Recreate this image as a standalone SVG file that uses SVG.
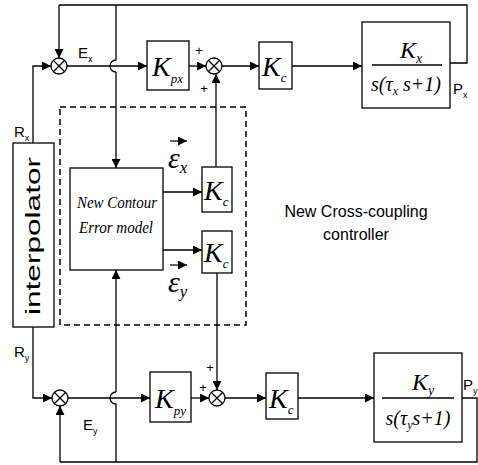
<svg xmlns="http://www.w3.org/2000/svg" width="478" height="465" viewBox="0 0 478 465">
<defs>
<marker id="ah" viewBox="0 0 10 10" refX="10" refY="5" markerWidth="9" markerHeight="9" markerUnits="userSpaceOnUse" orient="auto"><path d="M0,0 L10,5 L0,10 z" fill="#000"/></marker>
</defs>
<style>
.b{fill:#fff;stroke:#000;stroke-width:1.3}
.l{fill:none;stroke:#000;stroke-width:1.3}
.a{fill:none;stroke:#000;stroke-width:1.3;marker-end:url(#ah)}
.s{font-family:"Liberation Serif",serif;font-style:italic;fill:#000}
.n{font-family:"Liberation Sans",Arial,sans-serif;fill:#000}
</style>
<rect width="478" height="465" fill="#fff"/>
<g id="connectors">
<path class="l" d="M450,63 H467 V5 H59"/>
<path class="a" d="M59,5 V58"/>
<path class="l" d="M116,5 V60 A6,6 0 0 0 116,72"/>
<path class="a" d="M116,72 V168"/>
<path class="a" d="M33,143 V66 H51"/>
<path class="a" d="M67,66 H147"/>
<path class="a" d="M189,66 H206"/>
<path class="a" d="M222,66 H259"/>
<path class="a" d="M292,66 H362"/>
<path class="a" d="M163,192 H202"/>
<path class="a" d="M163,250 H202"/>
<path class="a" d="M216,168 V74"/>
<path class="a" d="M217,273 V390"/>
<path class="a" d="M33,327 V398 H52"/>
<path class="a" d="M68,398 H150"/>
<path class="a" d="M191,398 H209"/>
<path class="a" d="M225,398 H266"/>
<path class="a" d="M298,398 H374"/>
<path class="l" d="M462,398 H477 V462 H60"/>
<path class="a" d="M60,462 V406"/>
<path class="l" d="M116,462 V404 A6,6 0 0 1 116,392"/>
<path class="a" d="M116,392 V270"/>
</g>
<g id="dashed-box">
<rect x="60" y="107" width="186" height="218" fill="none" stroke="#000" stroke-width="1.5" stroke-dasharray="6,4"/>
</g>
<g id="sum1"><circle class="b" cx="59" cy="66" r="8"/><path class="l" d="M53.3,60.3 L64.7,71.7 M64.7,60.3 L53.3,71.7"/></g>
<g id="sum2"><circle class="b" cx="214" cy="66" r="8"/><path class="l" d="M208.3,60.3 L219.7,71.7 M219.7,60.3 L208.3,71.7"/>
<text class="n" x="199" y="55" font-size="13" text-anchor="middle">+</text>
<text class="n" x="204" y="93" font-size="13" text-anchor="middle">+</text></g>
<g id="sum3"><circle class="b" cx="60" cy="398" r="8"/><path class="l" d="M54.3,392.3 L65.7,403.7 M65.7,392.3 L54.3,403.7"/></g>
<g id="sum4"><circle class="b" cx="217" cy="398" r="8"/><path class="l" d="M211.3,392.3 L222.7,403.7 M222.7,392.3 L211.3,403.7"/>
<text class="n" x="210" y="372" font-size="13" text-anchor="middle">+</text>
<text class="n" x="203" y="392" font-size="13" text-anchor="middle">+</text></g>
<g id="interpolator">
<rect class="b" x="13" y="143" width="41" height="184"/>
<text class="n" transform="translate(40,236) rotate(-90)" font-size="20" text-anchor="middle" textLength="158" lengthAdjust="spacingAndGlyphs">interpolator</text>
</g>
<g id="labels">
<text class="n" x="78" y="58" font-size="15">E<tspan font-size="9" dy="4">x</tspan></text>
<text class="n" x="14" y="137" font-size="15">R<tspan font-size="9" dy="4">x</tspan></text>
<text class="n" x="14" y="357" font-size="15">R<tspan font-size="9" dy="4">y</tspan></text>
<text class="n" x="83" y="430" font-size="15">E<tspan font-size="9" dy="4">y</tspan></text>
<text class="n" x="453" y="94" font-size="15">P<tspan font-size="9" dy="4">x</tspan></text>
<text class="n" x="463" y="390" font-size="15">P<tspan font-size="9" dy="4">y</tspan></text>
<text class="n" x="356" y="217" font-size="16" text-anchor="middle">New Cross-coupling</text>
<text class="n" x="356" y="240" font-size="16" text-anchor="middle">controller</text>
</g>
<g id="Kpx"><rect class="b" x="147" y="41" width="42" height="49"/>
<text class="s" x="152" y="76" font-size="28">K<tspan font-size="13" dy="7">px</tspan></text></g>
<g id="Kc1"><rect class="b" x="259" y="42" width="33" height="47"/>
<text class="s" x="262" y="76" font-size="28">K<tspan font-size="13" dy="6">c</tspan></text></g>
<g id="Gx"><rect class="b" x="362" y="22" width="88" height="86"/>
<text class="s" x="400" y="58" font-size="24">K<tspan font-size="14" dy="5">x</tspan></text>
<path class="l" d="M372,65 H442"/>
<text class="s" x="406" y="91" font-size="20" text-anchor="middle">s(τ<tspan font-size="12" dy="4">x</tspan><tspan dy="-4"> s+1)</tspan></text></g>
<g id="model"><rect class="b" x="70" y="168" width="93" height="102"/>
<text class="s" x="117" y="208" font-size="16" text-anchor="middle" textLength="80" lengthAdjust="spacingAndGlyphs">New Contour</text>
<text class="s" x="116" y="233" font-size="16" text-anchor="middle" textLength="74" lengthAdjust="spacingAndGlyphs">Error model</text></g>
<g id="Kc2"><rect class="b" x="202" y="167" width="30" height="45"/>
<text class="s" x="204" y="200" font-size="28">K<tspan font-size="13" dy="6">c</tspan></text></g>
<g id="Kc3"><rect class="b" x="202" y="231" width="30" height="42"/>
<text class="s" x="204" y="262" font-size="28">K<tspan font-size="13" dy="6">c</tspan></text></g>
<g id="eps">
<text class="s" x="168" y="168" font-size="30">ε<tspan font-size="17" dy="5">x</tspan></text>
<path class="a" d="M170,141 H187" style="stroke-width:1.2"/>
<text class="s" x="168" y="292" font-size="30">ε<tspan font-size="17" dy="5">y</tspan></text>
<path class="a" d="M170,265 H187" style="stroke-width:1.2"/>
</g>
<g id="Kpy"><rect class="b" x="150" y="372" width="41" height="50"/>
<text class="s" x="155" y="408" font-size="28">K<tspan font-size="13" dy="7">py</tspan></text></g>
<g id="Kc4"><rect class="b" x="266" y="373" width="32" height="46"/>
<text class="s" x="269" y="408" font-size="28">K<tspan font-size="13" dy="6">c</tspan></text></g>
<g id="Gy"><rect class="b" x="374" y="353" width="88" height="89"/>
<text class="s" x="412" y="390" font-size="24">K<tspan font-size="14" dy="5">y</tspan></text>
<path class="l" d="M382,398 H454"/>
<text class="s" x="418" y="425" font-size="20" text-anchor="middle">s(τ<tspan font-size="12" dy="4">y</tspan><tspan dy="-4">s+1)</tspan></text></g>
</svg>
